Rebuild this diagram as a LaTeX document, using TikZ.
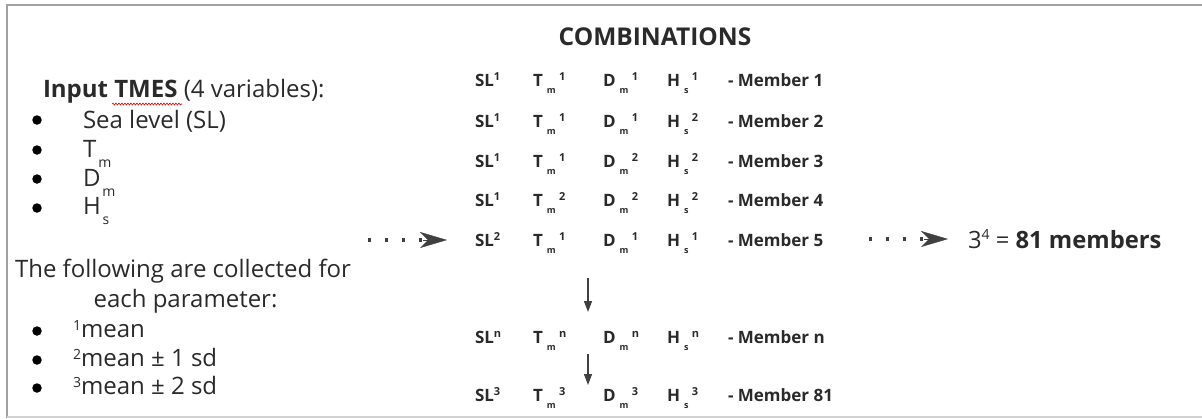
\documentclass[tikz,border=0pt]{standalone}
\usepackage{fontspec}
\setmainfont{Open Sans}
\usetikzlibrary{arrows.meta,decorations.pathmorphing}
\definecolor{txt}{HTML}{2A2A2A}
\definecolor{framec}{HTML}{A0A0A0}
\definecolor{framel}{HTML}{D2D2D2}
\definecolor{arr}{HTML}{404040}
\newcommand{\bigf}{\fontsize{24}{28}\selectfont}
\newcommand{\rowf}{\fontsize{17}{20}\selectfont}
% left list: letter with low subscript
\newcommand{\lsub}[2]{#1\hspace{2pt}\raisebox{-10pt}{\fontsize{14}{14}\selectfont #2}}
% combination cell: letter, low subscript, superscript
\newcommand{\csub}[3]{#1\hspace{4pt}\raisebox{-7pt}{\fontsize{9}{9}\selectfont #2}\hspace{3.5pt}\raisebox{6pt}{\fontsize{11}{11}\selectfont #3}}
\newcommand{\csl}[1]{SL\raisebox{6pt}{\fontsize{11}{11}\selectfont #1}}
\newcommand{\sups}[1]{\raisebox{7pt}{\fontsize{14}{14}\selectfont #1}}
\begin{document}
\begin{tikzpicture}[x=1pt,y=-1pt,
  every node/.style={inner sep=0pt,outer sep=0pt,text=txt},
  lefttxt/.style={font=\bigf,anchor=base west},
  rowtxt/.style={font=\rowf\bfseries,anchor=base west},
  bulletdot/.style={fill=black,circle,minimum size=9.5pt,inner sep=0pt},
  dotline/.style={draw=arr,line width=3.2pt,dash pattern=on 3.2pt off 13.8pt},
  headarrow/.style={draw=arr,line width=0.4pt,-{Stealth[length=27pt,width=16pt,inset=8pt,line width=0.4pt]},fill=arr},
  downarrow/.style={draw=arr,line width=1.3pt,-{Triangle[length=11pt,width=8pt]}}
]
\useasboundingbox (0,0) rectangle (1202,418);
% frame
\draw[framec,line width=2pt] (7,4.5) -- (1202,4.5);
\draw[framec,line width=2pt] (7,4) -- (7,418);
\draw[framel,line width=2pt] (7,416.5) -- (1202,416.5);

% title
\node[font=\fontsize{24.5}{28}\selectfont\bfseries,anchor=base] (title) at (655,45) {COMBINATIONS};

% left block
\node[lefttxt] (inp) at (43,97) {\textbf{Input TMES} (4 variables):};
\draw[red!80!black,line width=0.6pt,decorate,decoration={snake,amplitude=1pt,segment length=3pt}] (112,104) -- (182,104);
\node[bulletdot] (b1) at (37,120) {};
\node[bulletdot] (b2) at (37,150) {};
\node[bulletdot] (b3) at (37,179) {};
\node[bulletdot] (b4) at (37,208) {};
\node[lefttxt] (v1) at (83,128) {Sea level (SL)};
\node[lefttxt] (v2) at (83,157) {\lsub{T}{m}};
\node[lefttxt] (v3) at (83,186) {\lsub{D}{m}};
\node[lefttxt] (v4) at (83,214) {\lsub{H}{s}};

\node[lefttxt] (foll) at (15,277) {The following are collected for};
\node[font=\bigf,anchor=base] (each) at (185.5,307) {each parameter:};
\node[bulletdot] (c1) at (37,331) {};
\node[bulletdot] (c2) at (37,360) {};
\node[bulletdot] (c3) at (37,388) {};
\node[lefttxt] (s1) at (73,337) {\sups{1}mean};
\node[lefttxt] (s2) at (73,366) {\sups{2}mean ± 1 sd};
\node[lefttxt] (s3) at (73,394) {\sups{3}mean ± 2 sd};

% combination rows
\foreach \y/\sa/\a/\b/\c/\mem [count=\i] in
  {86/1/1/1/1/1, 127/1/1/1/2/2, 167/1/1/2/2/3, 206/1/2/2/2/4, 246/2/1/1/1/5,
   343/n/n/n/n/n, 401/3/3/3/3/81}{
  \node[rowtxt] (sl\i) at (475,\y) {\csl{\sa}};
  \node[rowtxt] (t\i) at (533,\y) {\csub{T}{m}{\a}};
  \node[rowtxt] (d\i) at (603,\y) {\csub{D}{m}{\b}};
  \node[rowtxt] (h\i) at (667,\y) {\csub{H}{s}{\c}};
  \node[rowtxt] (m\i) at (728,\y) {- Member \mem};
}

% down arrows
\coordinate (da1) at (588,278);
\coordinate (da2) at (588,312);
\coordinate (db1) at (588,354);
\coordinate (db2) at (588,385);
\draw[downarrow] (da1) -- (da2);
\draw[downarrow] (db1) -- (db2);

% dotted arrows
\coordinate (la1) at (368,240);
\coordinate (la2) at (423,240);
\coordinate (la3) at (447,240);
\draw[dotline] (la1) -- (la2);
\draw[headarrow] (la2) -- (la3);
\coordinate (ra1) at (869,239);
\coordinate (ra2) at (924,239);
\coordinate (ra3) at (948,239);
\draw[dotline] (ra1) -- (ra2);
\draw[headarrow] (ra2) -- (ra3);

% result
\node[anchor=base west,font=\fontsize{23.8}{28}\selectfont] (res) at (968,248) {3\raisebox{9pt}{\fontsize{14}{14}\selectfont 4} = \textbf{81 members}};
\end{tikzpicture}
\end{document}
